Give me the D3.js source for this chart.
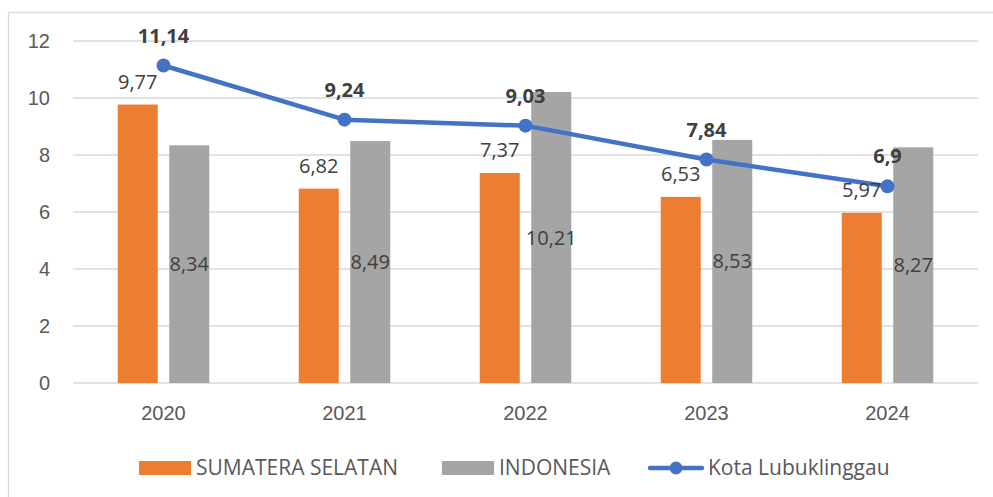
<!DOCTYPE html>
<html>
<head>
<meta charset="utf-8">
<script src="https://cdn.jsdelivr.net/npm/d3@7"></script>
<style>
  body { margin: 0; background: #fff; }
  svg { display: block; font-family: 'Open Sans', sans-serif; }
</style>
</head>
<body>
<svg id="chart" width="993" height="497"></svg>
<script>
const years = ['2020', '2021', '2022', '2023', '2024'];
const sumsel = [9.77, 6.82, 7.37, 6.53, 5.97];
const indonesia = [8.34, 8.49, 10.21, 8.53, 8.27];
const lubuklinggau = [11.14, 9.24, 9.03, 7.84, 6.9];
const yTicks = [0, 2, 4, 6, 8, 10, 12];

const orange = '#ED7D31';
const grey = '#A5A5A5';
const blue = '#4472C4';
const textColor = '#595959';
const labelColor = '#404040';

const fmt = v => String(v).replace('.', ',');

const margin = { left: 73, right: 15, top: 41, bottom: 114 };
const width = 993;
const height = 497;

const svg = d3.select('#chart');

// frame of the chart area (cut off at right and bottom)
svg.append('rect')
    .attr('x', 8.5)
    .attr('y', 12.5)
    .attr('width', 1100)
    .attr('height', 600)
    .attr('fill', 'none')
    .attr('stroke', '#D9D9D9')
    .attr('stroke-width', 1.3);

const x = d3.scaleBand()
    .domain(years)
    .range([margin.left, width - margin.right]);

const y = d3.scaleLinear()
    .domain([0, 12])
    .range([height - margin.bottom, margin.top]);

// gridlines
svg.append('g')
    .selectAll('line')
    .data(yTicks)
    .enter()
    .append('line')
    .attr('x1', margin.left)
    .attr('x2', width - margin.right)
    .attr('y1', d => y(d))
    .attr('y2', d => y(d))
    .attr('stroke', '#D9D9D9')
    .attr('stroke-width', 1.3);

// Y axis
const yAxis = svg.append('g')
    .attr('transform', 'translate(' + margin.left + ',0)')
    .call(d3.axisLeft(y).tickValues(yTicks).tickSize(0).tickPadding(23));
yAxis.select('.domain').remove();
yAxis.selectAll('text')
    .attr('fill', textColor)
    .style('font-size', '20px');

// X axis
const xAxis = svg.append('g')
    .attr('transform', 'translate(0,' + y(0) + ')')
    .call(d3.axisBottom(x).tickSize(0).tickPadding(23));
xAxis.select('.domain').remove();
xAxis.selectAll('text')
    .attr('fill', textColor)
    .style('font-size', '20px');

const barW = 40;
const gap = 11.5;

// bars
svg.append('g')
    .selectAll('rect')
    .data(years)
    .enter()
    .append('rect')
    .attr('x', d => x(d) + x.bandwidth() / 2 - gap / 2 - barW)
    .attr('y', (d, i) => y(sumsel[i]))
    .attr('width', barW)
    .attr('height', (d, i) => y(0) - y(sumsel[i]))
    .attr('fill', orange);

svg.append('g')
    .selectAll('rect')
    .data(years)
    .enter()
    .append('rect')
    .attr('x', d => x(d) + x.bandwidth() / 2 + gap / 2)
    .attr('y', (d, i) => y(indonesia[i]))
    .attr('width', barW)
    .attr('height', (d, i) => y(0) - y(indonesia[i]))
    .attr('fill', grey);

// line
const lineGen = d3.line()
    .x((d, i) => x(years[i]) + x.bandwidth() / 2)
    .y(d => y(d));

svg.append('path')
    .attr('d', lineGen(lubuklinggau))
    .attr('stroke', blue)
    .attr('stroke-width', 4.5)
    .attr('stroke-linejoin', 'round')
    .attr('fill', 'none');

svg.append('g')
    .selectAll('circle')
    .data(lubuklinggau)
    .enter()
    .append('circle')
    .attr('cx', (d, i) => x(years[i]) + x.bandwidth() / 2)
    .attr('cy', d => y(d))
    .attr('r', 7)
    .attr('fill', blue);

// labels for orange bars (above)
svg.append('g')
    .selectAll('text')
    .data(sumsel)
    .enter()
    .append('text')
    .attr('x', (d, i) => x(years[i]) + x.bandwidth() / 2 - gap / 2 - barW / 2)
    .attr('y', d => y(d) - 16)
    .attr('text-anchor', 'middle')
    .attr('fill', labelColor)
    .style('font-size', '20px')
    .text(d => fmt(d));

// labels for grey bars (centre)
svg.append('g')
    .selectAll('text')
    .data(indonesia)
    .enter()
    .append('text')
    .attr('x', (d, i) => x(years[i]) + x.bandwidth() / 2 + gap / 2 + barW / 2)
    .attr('y', d => (y(d) + y(0)) / 2)
    .attr('dy', '0.35em')
    .attr('text-anchor', 'middle')
    .attr('fill', labelColor)
    .style('font-size', '20px')
    .text(d => fmt(d));

// labels for line (bold, above)
svg.append('g')
    .selectAll('text')
    .data(lubuklinggau)
    .enter()
    .append('text')
    .attr('x', (d, i) => x(years[i]) + x.bandwidth() / 2)
    .attr('y', d => y(d) - 23)
    .attr('text-anchor', 'middle')
    .attr('fill', labelColor)
    .style('font-size', '20px')
    .style('font-weight', 'bold')
    .text(d => fmt(d));

// Legenda
const legendY = 468;
svg.append('rect')
    .attr('x', 139).attr('y', legendY - 7)
    .attr('width', 52).attr('height', 14)
    .attr('fill', orange);
svg.append('text')
    .attr('x', 196).attr('y', legendY).attr('dy', '0.35em')
    .attr('fill', textColor).style('font-size', '21px')
    .text('SUMATERA SELATAN');

svg.append('rect')
    .attr('x', 442).attr('y', legendY - 7)
    .attr('width', 52).attr('height', 14)
    .attr('fill', grey);
svg.append('text')
    .attr('x', 499).attr('y', legendY).attr('dy', '0.35em')
    .attr('fill', textColor).style('font-size', '21px')
    .text('INDONESIA');

svg.append('line')
    .attr('x1', 650).attr('x2', 702)
    .attr('y1', legendY).attr('y2', legendY)
    .attr('stroke', blue).attr('stroke-width', 4.5)
    .attr('stroke-linecap', 'round');
svg.append('circle')
    .attr('cx', 676).attr('cy', legendY).attr('r', 6.5)
    .attr('fill', blue);
svg.append('text')
    .attr('x', 708).attr('y', legendY).attr('dy', '0.35em')
    .attr('fill', textColor).style('font-size', '21px')
    .text('Kota Lubuklinggau');
</script>
</body>
</html>
